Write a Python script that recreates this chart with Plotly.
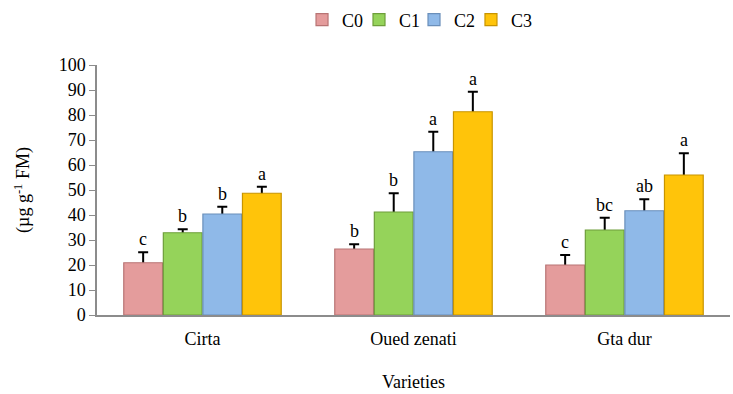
import plotly.graph_objects as go

varieties = ["Cirta", "Oued zenati", "Gta dur"]
series_names = ["C0", "C1", "C2", "C3"]
values = {
    "C0": [20.9, 26.4, 20.0],
    "C1": [32.9, 41.2, 34.0],
    "C2": [40.4, 65.3, 41.7],
    "C3": [48.7, 81.3, 56.0],
}
errors = {
    "C0": [4.2, 1.9, 4.0],
    "C1": [1.4, 7.5, 4.9],
    "C2": [2.9, 8.0, 4.6],
    "C3": [2.6, 8.0, 8.7],
}
letters = {
    "C0": ["c", "b", "c"],
    "C1": ["b", "b", "bc"],
    "C2": ["b", "a", "ab"],
    "C3": ["a", "a", "a"],
}
colors = {"C0": "#E49C9C", "C1": "#95D35A", "C2": "#8FB9E8", "C3": "#FFC40A"}
edges = {"C0": "#B87474", "C1": "#6E9E3A", "C2": "#6A8FBA", "C3": "#C89400"}

FONT = "Liberation Serif"
bargap = 0.25
n = len(series_names)
bw = (1 - bargap) / n
legend_x = [0.3239, 0.4139, 0.5008, 0.5908]

fig = go.Figure()
xs = list(range(len(varieties)))
annotations = []
for i, s in enumerate(series_names):
    off = -(1 - bargap) / 2 + bw * (i + 0.5)
    # error bars on the base subplot so they are drawn beneath the bars
    fig.add_trace(go.Scatter(
        x=[j + off for j in xs], y=values[s], mode="markers",
        marker=dict(size=1, opacity=0), showlegend=False, hoverinfo="skip",
        error_y=dict(type="data", array=errors[s], color="black", thickness=2, width=5),
        xaxis="x", yaxis="y",
    ))
    for j in xs:
        annotations.append(dict(
            x=j + off, y=values[s][j] + errors[s][j], xref="x", yref="y",
            text=letters[s][j], showarrow=False, yanchor="bottom", yshift=1,
            font=dict(family=FONT, size=18, color="black"),
        ))
legends = {}
for i, s in enumerate(series_names):
    lname = "legend" if i == 0 else f"legend{i + 1}"
    fig.add_trace(go.Bar(
        x=xs, y=values[s], name=s, legend=lname,
        marker=dict(color=colors[s], line=dict(color=edges[s], width=1.2)),
        xaxis="x", yaxis="y2",
    ))
    legends[lname] = dict(orientation="h", x=legend_x[i], xanchor="left", y=1.18,
                          yanchor="middle", font=dict(family=FONT, size=18),
                          itemwidth=30, bgcolor="rgba(0,0,0,0)")

fig.update_layout(
    width=733, height=394,
    margin=dict(l=97, r=3, t=65, b=79, autoexpand=False),
    paper_bgcolor="white", plot_bgcolor="white",
    barmode="group", bargap=bargap, bargroupgap=0.02,
    font=dict(family=FONT, size=18, color="black"),
    showlegend=True,
    annotations=annotations,
    xaxis=dict(
        tickmode="array", tickvals=xs, ticktext=varieties, range=[-0.5, 2.5],
        showline=True, linecolor="#8C8C8C", linewidth=1.5, ticks="", showgrid=False,
        zeroline=False, ticklabelstandoff=7,
        title=dict(text="Varieties", standoff=27, font=dict(family=FONT, size=18)),
        tickfont=dict(family=FONT, size=18),
    ),
    yaxis=dict(
        range=[0, 100], tick0=0, dtick=10, showline=True, linecolor="#8C8C8C", linewidth=1.5,
        ticks="outside", ticklen=6, tickcolor="#8C8C8C", showgrid=False, zeroline=False,
        tickfont=dict(family=FONT, size=18),
        title=dict(text="(µg g<sup>-1</sup> FM)", standoff=24, font=dict(family=FONT, size=18)),
    ),
    yaxis2=dict(range=[0, 100], overlaying="y", visible=False, showgrid=False, zeroline=False),
    **legends,
)

fig.write_html("out.html", config={"displayModeBar": False},
               post_script="document.body.style.margin='0';")
